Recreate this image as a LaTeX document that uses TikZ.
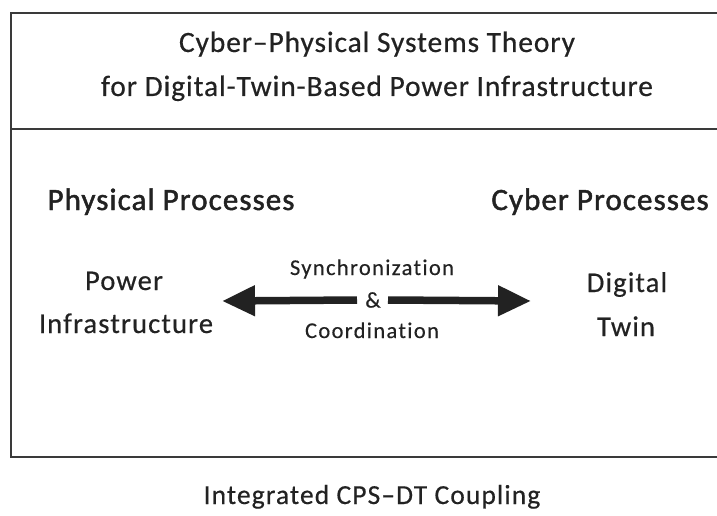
\documentclass[tikz,border=0pt]{standalone}
\usepackage{fontspec}
\setmainfont{Carlito}
% humanist sans at a medium weight, tracked slightly open
\newfontfamily\titlefont{Carlito}[FakeBold=0.45,LetterSpace=3,Ligatures=NoCommon]
\newfontfamily\headfont{Carlito}[FakeBold=1.5,LetterSpace=3.5,Ligatures=NoCommon]
\newfontfamily\bodyfont{Carlito}[FakeBold=0.45,LetterSpace=4,Ligatures=NoCommon]
\newfontfamily\smallfont{Carlito}[FakeBold=0.35,LetterSpace=6,Ligatures=NoCommon]
\usetikzlibrary{arrows.meta}
\definecolor{ink}{HTML}{222222}
\definecolor{rule}{HTML}{3A3A3A}
\begin{document}
\begin{tikzpicture}[x=1pt,y=-1pt,
  txt/.style={text=ink,inner sep=0pt,anchor=base},
  ttl/.style={txt,font=\fontsize{29.5}{34}\titlefont},
  head/.style={txt,font=\fontsize{31}{36}\headfont},
  lbl/.style={txt,font=\fontsize{28.5}{33}\bodyfont},
  small/.style={txt,font=\fontsize{22.5}{26}\smallfont},
  captext/.style={txt,font=\fontsize{27.5}{32}\bodyfont},
  frame/.style={draw=rule,line width=2pt},
  link/.style={draw=ink,line width=7.5pt,-{Triangle[length=33pt,width=29pt]}}]
\useasboundingbox (0,0) rectangle (717,516);
\fill[white] (0,0) rectangle (717,516);
% outer frame, running past the right edge, and the title divider
\draw[frame] (730,13) -- (11,13) -- (11,457) -- (730,457);
\draw[frame] (11,129) -- (730,129);
% title
\node[ttl] (t1) at (377,52) {Cyber–Physical Systems Theory};
\node[ttl] (t2) at (377,96) {for Digital-Twin-Based Power Infrastructure};
% column headings
\node[head] (phys) at (171,210) {Physical Processes};
\node[head] (cyb) at (600,210) {Cyber Processes};
% the two sides
\node[lbl] (pw1) at (124,290) {Power};
\node[lbl] (pw2) at (126,333) {Infrastructure};
\node[lbl] (dt1) at (627,292) {Digital};
\node[lbl] (dt2) at (626,336) {Twin};
% link labels
\node[small] (sync) at (372,275) {Synchronization};
\node[txt,font=\fontsize{22.5}{26}\smallfont,anchor=center] (amp) at (373,300) {\&};
\node[small] (coord) at (372,338) {Coordination};
\coordinate (ltip) at (222,301);
\coordinate (rtip) at (531,301);
\draw[link] ([xshift=-16pt]amp.center) -- (ltip);
\draw[link] ([xshift=15pt]amp.center) -- (rtip);
% caption
\node[captext] (capt) at (372,504) {Integrated CPS–DT Coupling};
\end{tikzpicture}
\end{document}
